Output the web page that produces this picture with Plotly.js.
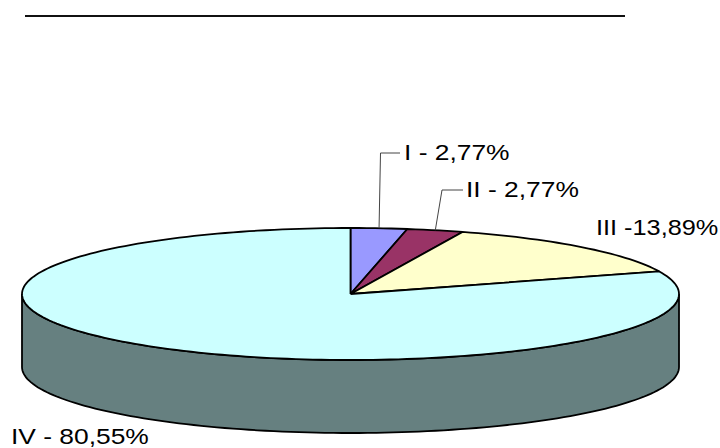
<!DOCTYPE html>
<html>
<head>
<meta charset="utf-8">
<script src="https://cdn.plot.ly/plotly-3.0.1.min.js"></script>
<style>
html,body{margin:0;padding:0;background:#fff}
#chart{width:720px;height:448px}
/* the labels are set in a widened Arial-style face */
.annotation-text{transform-box:fill-box;transform-origin:left center;transform:scaleX(1.2)}
.annotation[data-index="2"] .annotation-text{transform:scaleX(1.15)}
</style>
</head>
<body>
<div id="chart"></div>
<script>
// Share of each class, clockwise from twelve o'clock
const categories = ['I', 'II', 'III', 'IV'];
const shares = [2.77, 2.77, 13.89, 80.55];
const shareLabels = ['I - 2,77%', 'II - 2,77%', 'III -13,89%', 'IV - 80,55%'];
const sliceColors = ['#9999FF', '#993366', '#FFFFCC', '#CCFFFF'];
const sideColor = '#668080';

// Tilted-disc geometry, in the pixel-like units of the axes
const cx = 350.5, cy = 294, rx = 328.5, ry = 66, depth = 73;
const total = shares.reduce((a, b) => a + b, 0);

const rim = (deg, dy = 0) => {
  const t = deg * Math.PI / 180;
  return [cx + rx * Math.sin(t), cy - ry * Math.cos(t) + dy];
};
const arc = (from, to, dy = 0) => {
  const pts = [];
  const n = Math.max(2, Math.ceil(Math.abs(to - from) / 1.5));
  for (let i = 0; i <= n; i++) pts.push(rim(from + (to - from) * i / n, dy));
  return pts;
};
const trace = (pts, extra) => Object.assign({
  x: pts.map(p => p[0]), y: pts.map(p => p[1]),
  type: 'scatter', mode: 'lines', hoverinfo: 'skip',
  line: {color: '#000', width: 1.8, simplify: false}
}, extra);

const traces = [];

// Wall of the disc: the visible front half
const front = arc(90, 270);
const wall = front.concat(arc(270, 90, depth));
traces.push(trace(wall.concat([wall[0]]), {fill: 'toself', fillcolor: sideColor}));

// Slices on the top face
let running = 0;
const midAngles = [];
categories.forEach((c, i) => {
  const a0 = running / total * 360;
  running += shares[i];
  const a1 = running / total * 360;
  midAngles.push((a0 + a1) / 2);
  const pts = [[cx, cy]].concat(arc(a0, a1), [[cx, cy]]);
  traces.push(trace(pts, {name: c, fill: 'toself', fillcolor: sliceColors[i]}));
});

// Leader lines for the two narrow slices
const leaderElbows = [[380.5, 153, 400], [442, 190, 463]];
leaderElbows.forEach((e, i) => {
  const start = rim(midAngles[i]);
  traces.push(trace([start, [e[0], e[1]], [e[2], e[1]]], {line: {color: '#444', width: 1}}));
});

// Label anchor points: left edge and vertical centre
const labelX = [403, 465, 595, 10];
const labelY = [152, 189, 227, 436];
const annotations = shareLabels.map((t, i) => ({
  text: t, x: labelX[i], y: labelY[i], xref: 'x', yref: 'y',
  xanchor: 'left', yanchor: 'middle', showarrow: false,
  borderpad: 0, font: {family: 'Liberation Sans, Arial, sans-serif', size: 22, color: '#000'}
}));

const layout = {
  width: 720, height: 448,
  margin: {l: 0, r: 0, t: 0, b: 0},
  paper_bgcolor: '#fff', plot_bgcolor: '#fff',
  showlegend: false,
  xaxis: {range: [0, 720], visible: false, fixedrange: true},
  yaxis: {range: [448, 0], visible: false, fixedrange: true},
  annotations,
  // Rule across the top of the figure
  shapes: [{type: 'line', xref: 'x', yref: 'y', x0: 25, x1: 625, y0: 16, y1: 16,
            line: {color: '#111', width: 2}}]
};

Plotly.newPlot('chart', traces, layout, {displayModeBar: false, staticPlot: true});
</script>
</body>
</html>
